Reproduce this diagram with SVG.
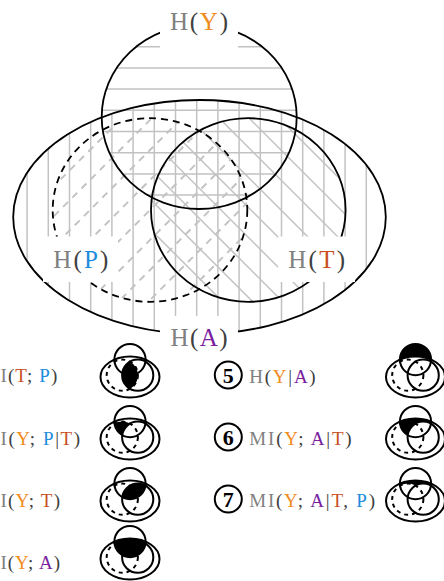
<svg xmlns="http://www.w3.org/2000/svg" xmlns:xlink="http://www.w3.org/1999/xlink" width="444" height="581" viewBox="0 0 444 581">
<style>
.hatch{stroke:#c2c2c2;stroke-width:1.5;fill:none}
.dash{stroke-dasharray:7 6;stroke-width:1.9}
.out{fill:none;stroke:#000;stroke-width:1.8}
.pd{stroke-dasharray:7 5}
.box{fill:#fff}
.lbl{font-family:"Liberation Serif","Times New Roman",serif;font-size:25px;fill:#808080}
.sm{font-family:"Liberation Serif","Times New Roman",serif;font-size:19px;fill:#808080}
.k{fill:#404040}
.cY{fill:#F08C1E}
.cP{fill:#1E8CDC}
.cT{fill:#C8501E}
.cA{fill:#7A1FA0}
.io{fill:none;stroke:#000;stroke-width:2}
.ipd{stroke-dasharray:4 4}
.num{font-family:"Liberation Serif","Times New Roman",serif;font-size:22px;font-weight:bold;fill:#000;text-anchor:middle}
</style>
<defs>
<clipPath id="cYm"><ellipse cx="199.2" cy="117" rx="97.5" ry="92"/></clipPath>
<clipPath id="cAm"><ellipse cx="199.5" cy="217" rx="186.3" ry="117"/></clipPath>
<clipPath id="cTm"><ellipse cx="248.3" cy="210" rx="97.3" ry="91.8"/></clipPath>
<clipPath id="cPm"><ellipse cx="150" cy="210" rx="97.3" ry="91.8"/></clipPath>
<clipPath id="icY"><circle cx="0" cy="-17.4" r="15.6"/></clipPath>
<clipPath id="icP"><circle cx="-7.7" cy="-1.8" r="15.6"/></clipPath>
<g id="icon">
<ellipse class="io" cx="0" cy="0" rx="29.5" ry="20.5"/>
<circle class="io" cx="0" cy="-17.4" r="15.6"/>
<circle class="io" cx="7.7" cy="-1.8" r="15.6"/>
<circle class="io ipd" cx="-7.7" cy="-1.8" r="15.6"/>
</g>
</defs>

<g id="connectors"></g>

<g id="hatching">
<path class="hatch" clip-path="url(#cYm)" d="M95 46.7H305M95 67.9H305M95 89.1H305M95 110.3H305M95 131.5H305M95 152.7H305M95 173.9H305M95 195.1H305"/>
<path class="hatch" clip-path="url(#cAm)" d="M27.1 95V340M48.3 95V340M69.5 95V340M90.7 95V340M111.9 95V340M133.1 95V340M154.3 95V340M175.5 95V340M196.7 95V340M217.9 95V340M239.1 95V340M260.3 95V340M281.5 95V340M302.7 95V340M323.9 95V340M345.1 95V340M366.3 95V340"/>
<path class="hatch" clip-path="url(#cTm)" d="M-59 110L141 310M-29 110L171 310M1 110L201 310M31 110L231 310M61 110L261 310M91 110L291 310M121 110L321 310M151 110L351 310M181 110L381 310M211 110L411 310M241 110L441 310M271 110L471 310M301 110L501 310M331 110L531 310"/>
<path class="hatch dash" clip-path="url(#cPm)" d="M100 110L-100 310M130 110L-70 310M160 110L-40 310M190 110L-10 310M220 110L20 310M250 110L50 310M280 110L80 310M310 110L110 310M340 110L140 310M370 110L170 310M400 110L200 310M430 110L230 310"/>
</g>

<g id="set-A">
<ellipse class="out" cx="199.5" cy="217" rx="186.3" ry="117"/>
<rect class="box" x="160" y="316" width="78" height="46"/>
<text class="lbl" x="170.5" y="346" textLength="57" lengthAdjust="spacing">H<tspan class="k">(</tspan><tspan class="cA">A</tspan><tspan class="k">)</tspan></text>
</g>
<g id="set-Y">
<ellipse class="out" cx="199.2" cy="117" rx="97.5" ry="92"/>
<rect class="box" x="160" y="0" width="78" height="49"/>
<text class="lbl" x="170" y="30" textLength="58" lengthAdjust="spacing">H<tspan class="k">(</tspan><tspan class="cY">Y</tspan><tspan class="k">)</tspan></text>
</g>
<g id="set-P">
<ellipse class="out pd" cx="150" cy="210" rx="97.3" ry="91.8"/>
<rect class="box" x="43" y="236.5" width="75" height="45.5"/>
<text class="lbl" x="53.3" y="267.5" textLength="55" lengthAdjust="spacing">H<tspan class="k">(</tspan><tspan class="cP">P</tspan><tspan class="k">)</tspan></text>
</g>
<g id="set-T">
<ellipse class="out" cx="248.3" cy="210" rx="97.3" ry="91.8"/>
<rect class="box" x="278" y="236.5" width="77" height="45.5"/>
<text class="lbl" x="288.3" y="267.5" textLength="56.7" lengthAdjust="spacing">H<tspan class="k">(</tspan><tspan class="cT">T</tspan><tspan class="k">)</tspan></text>
</g>

<g id="item-1">
<text class="sm" x="0.5" y="382" textLength="56.8" lengthAdjust="spacing">I<tspan class="k">(</tspan><tspan class="cT">T</tspan><tspan class="k">; </tspan><tspan class="cP">P</tspan><tspan class="k">)</tspan></text>
<g transform="translate(130,377)">
<circle cx="7.7" cy="-1.8" r="15.6" fill="#000" clip-path="url(#icP)"/>
<use xlink:href="#icon"/>
</g>
</g>
<g id="item-2">
<text class="sm" x="0.5" y="445" textLength="79.5" lengthAdjust="spacing">I<tspan class="k">(</tspan><tspan class="cY">Y</tspan><tspan class="k">; </tspan><tspan class="cP">P</tspan><tspan class="k">|</tspan><tspan class="cT">T</tspan><tspan class="k">)</tspan></text>
<g transform="translate(130,439)">
<circle cx="-7.7" cy="-1.8" r="15.6" fill="#000" clip-path="url(#icY)"/>
<circle cx="7.7" cy="-1.8" r="15.6" fill="#fff" clip-path="url(#icY)"/>
<use xlink:href="#icon"/>
</g>
</g>
<g id="item-3">
<text class="sm" x="0.5" y="507" textLength="59.5" lengthAdjust="spacing">I<tspan class="k">(</tspan><tspan class="cY">Y</tspan><tspan class="k">; </tspan><tspan class="cT">T</tspan><tspan class="k">)</tspan></text>
<g transform="translate(130,501)">
<circle cx="7.7" cy="-1.8" r="15.6" fill="#000" clip-path="url(#icY)"/>
<use xlink:href="#icon"/>
</g>
</g>
<g id="item-4">
<text class="sm" x="0.5" y="569" textLength="59.5" lengthAdjust="spacing">I<tspan class="k">(</tspan><tspan class="cY">Y</tspan><tspan class="k">; </tspan><tspan class="cA">A</tspan><tspan class="k">)</tspan></text>
<g transform="translate(130,559)">
<ellipse cx="0" cy="0" rx="29.5" ry="20.5" fill="#000" clip-path="url(#icY)"/>
<use xlink:href="#icon"/>
</g>
</g>
<g id="item-5">
<circle cx="228.3" cy="375" r="13.5" fill="none" stroke="#000" stroke-width="2"/>
<text class="num" x="228.3" y="382.5">5</text>
<text class="sm" x="249.3" y="382.5" textLength="66.4" lengthAdjust="spacing">H<tspan class="k">(</tspan><tspan class="cY">Y</tspan><tspan class="k">|</tspan><tspan class="cA">A</tspan><tspan class="k">)</tspan></text>
<g transform="translate(415.5,377)">
<circle cx="0" cy="-17.4" r="15.6" fill="#000"/>
<ellipse cx="0" cy="0" rx="29.5" ry="20.5" fill="#fff" clip-path="url(#icY)"/>
<use xlink:href="#icon"/>
</g>
</g>
<g id="item-6">
<circle cx="228.3" cy="437" r="13.5" fill="none" stroke="#000" stroke-width="2"/>
<text class="num" x="228.3" y="444.5">6</text>
<text class="sm" x="249.3" y="444.5" textLength="102.4" lengthAdjust="spacing">MI<tspan class="k">(</tspan><tspan class="cY">Y</tspan><tspan class="k">; </tspan><tspan class="cA">A</tspan><tspan class="k">|</tspan><tspan class="cT">T</tspan><tspan class="k">)</tspan></text>
<g transform="translate(415.5,439)">
<ellipse cx="0" cy="0" rx="29.5" ry="20.5" fill="#000" clip-path="url(#icY)"/>
<circle cx="7.7" cy="-1.8" r="15.6" fill="#fff" clip-path="url(#icY)"/>
<use xlink:href="#icon"/>
</g>
</g>
<g id="item-7">
<circle cx="228.3" cy="499" r="13.5" fill="none" stroke="#000" stroke-width="2"/>
<text class="num" x="228.3" y="506.5">7</text>
<text class="sm" x="249.3" y="506.5" textLength="125.7" lengthAdjust="spacing">MI<tspan class="k">(</tspan><tspan class="cY">Y</tspan><tspan class="k">; </tspan><tspan class="cA">A</tspan><tspan class="k">|</tspan><tspan class="cT">T</tspan><tspan class="k">, </tspan><tspan class="cP">P</tspan><tspan class="k">)</tspan></text>
<g transform="translate(415.5,501)">
<ellipse cx="0" cy="0" rx="29.5" ry="20.5" fill="#000" clip-path="url(#icY)"/>
<circle cx="7.7" cy="-1.8" r="15.6" fill="#fff" clip-path="url(#icY)"/>
<circle cx="-7.7" cy="-1.8" r="15.6" fill="#fff" clip-path="url(#icY)"/>
<use xlink:href="#icon"/>
</g>
</g>
</svg>
